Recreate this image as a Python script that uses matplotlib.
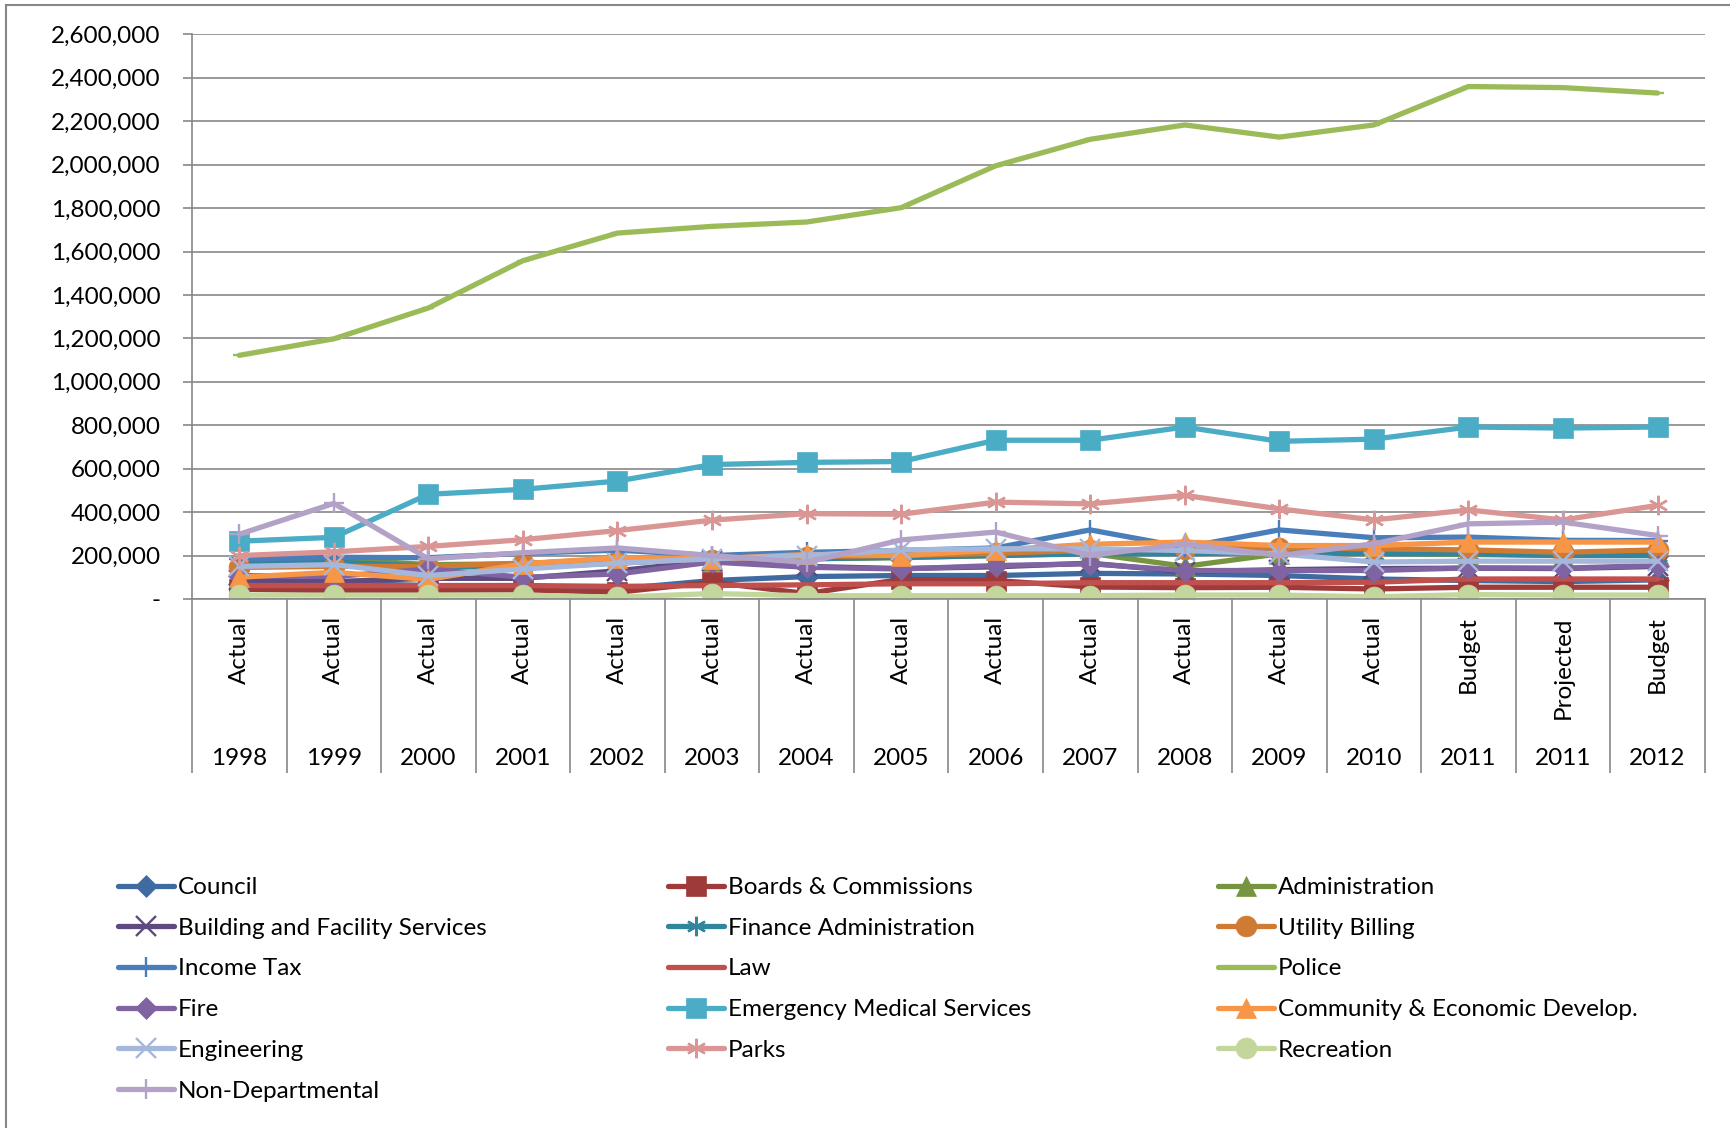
import numpy as np
import matplotlib.pyplot as plt
from matplotlib.patches import Rectangle
from matplotlib.ticker import FuncFormatter

plt.rcParams['font.family'] = ['Lato', 'DejaVu Sans']

# Categories (two-level axis)
years = ["1998", "1999", "2000", "2001", "2002", "2003", "2004", "2005",
         "2006", "2007", "2008", "2009", "2010", "2011", "2011", "2012"]
kinds = ["Actual"] * 13 + ["Budget", "Projected", "Budget"]

# Series values
council = [70000, 72000, 62000, 55000, 46000, 85000, 103000, 108000,
           108000, 118000, 115000, 108000, 92000, 85000, 80000, 88000]
boards = [45000, 38000, 40000, 42000, 31000, 77000, 25000, 90000,
          85000, 55000, 52000, 54000, 46000, 54000, 54000, 54000]
administration = [175000, 185000, 158000, 162000, 185000, 175000, 185000, 190000,
                  200000, 210000, 150000, 208000, 210000, 205000, 200000, 208000]
building = [88000, 80000, 95000, 95000, 130000, 175000, 150000, 140000,
            148000, 165000, 125000, 135000, 140000, 142000, 140000, 150000]
finance = [168000, 170000, 150000, 145000, 165000, 185000, 185000, 192000,
           200000, 208000, 208000, 215000, 208000, 208000, 200000, 200000]
utility = [145000, 150000, 150000, 165000, 175000, 180000, 195000, 200000,
           210000, 225000, 230000, 235000, 231000, 226000, 215000, 226000]
income_tax = [183000, 192000, 190000, 210000, 225000, 200000, 215000, 223000,
              235000, 318000, 238000, 318000, 282000, 285000, 270000, 269000]
law = [62000, 62000, 62000, 62000, 58000, 62000, 65000, 70000,
       70000, 75000, 75000, 75000, 77000, 92000, 92000, 92000]
police = [1122000, 1198000, 1340000, 1558000, 1685000, 1716000, 1736000, 1802000,
          1995000, 2117000, 2183000, 2127000, 2183000, 2360000, 2355000, 2330000]
fire = [108000, 103000, 138000, 100000, 115000, 170000, 146000, 138000,
        154000, 162000, 131000, 131000, 131000, 143000, 142000, 154000]
ems = [266000, 284000, 482000, 505000, 543000, 619000, 629000, 633000,
       731000, 731000, 792000, 726000, 736000, 792000, 787000, 792000]
community = [100000, 123000, 90000, 162000, 190000, 185000, 205000, 200000,
             225000, 252000, 262000, 246000, 246000, 262000, 262000, 262000]
engineering = [150000, 158000, 108000, 138000, 165000, 185000, 200000, 226000,
               231000, 231000, 223000, 208000, 170000, 174000, 174000, 174000]
parks = [200000, 217000, 242000, 273000, 315000, 363000, 393000, 390000,
         446000, 438000, 477000, 415000, 364000, 410000, 364000, 431000]
recreation = [18000, 18000, 18000, 18000, 8000, 25000, 15000, 15000,
              15000, 15000, 18000, 18000, 10000, 20000, 18000, 18000]
non_dept = [298000, 440000, 185000, 213000, 235000, 200000, 168000, 272000,
            308000, 200000, 254000, 200000, 254000, 346000, 354000, 292000]

asterisk = (6, 2, 0)
series = [
    ("Council", council, "#3F6BA1", "D"),
    ("Boards & Commissions", boards, "#9E3B3A", "s"),
    ("Administration", administration, "#779440", "^"),
    ("Building and Facility Services", building, "#5E4A7E", "x"),
    ("Finance Administration", finance, "#31859C", asterisk),
    ("Utility Billing", utility, "#D07B34", "o"),
    ("Income Tax", income_tax, "#4A7EBB", "+"),
    ("Law", law, "#C0504D", "_"),
    ("Police", police, "#9BBB59", "_"),
    ("Fire", fire, "#8064A2", "D"),
    ("Emergency Medical Services", ems, "#4BACC6", "s"),
    ("Community & Economic Develop.", community, "#F79646", "^"),
    ("Engineering", engineering, "#A5B8DB", "x"),
    ("Parks", parks, "#D99694", asterisk),
    ("Recreation", recreation, "#C3D69B", "o"),
    ("Non-Departmental", non_dept, "#B3A2C7", "+"),
]

grey = "#878787"
fig = plt.figure(figsize=(17.31, 11.28), dpi=100)
fig.patches.append(Rectangle((0.0035, -0.01), 1.0, 0.9956 + 0.01,
                             transform=fig.transFigure, fill=False,
                             edgecolor=grey, lw=1.5))

ax = fig.add_axes([0.1109, 0.469, 0.874, 0.5005])
x = np.arange(len(years))

handles = []
for name, vals, color, mk in series:
    line_marker = mk in ("x", "+", asterisk, "_")
    sizes = {"s": 14, "o": 15, "D": 11, "^": 14}
    ms = sizes.get(mk, 14)
    if mk == "_":
        ms = 8
    h, = ax.plot(x, vals, color=color, lw=3.8, marker=mk, markersize=ms,
                 markeredgewidth=1.7 if line_marker else 0.5,
                 markeredgecolor=color, label=name, solid_capstyle="round")
    handles.append(h)

ax.set_xlim(-0.5, len(years) - 0.5)
ax.set_ylim(0, 2600000)
ax.set_yticks(np.arange(0, 2600001, 200000))
ax.yaxis.set_major_formatter(FuncFormatter(lambda v, p: "-" if v == 0 else f"{int(v):,}"))
ax.grid(axis="y", color=grey, lw=1.2)
ax.set_axisbelow(True)

for s in ("top", "right"):
    ax.spines[s].set_visible(False)
for s in ("left", "bottom"):
    ax.spines[s].set_color(grey)
    ax.spines[s].set_linewidth(1.2)

ax.tick_params(axis="y", length=6.5, color=grey, width=1.2, pad=16, labelsize=17.5)
ax.set_xticks(x)
ax.set_xticklabels(kinds, rotation=90, fontsize=17.5, va="top")
ax.tick_params(axis="x", which="major", length=0, pad=12.5)
ax.set_xticks(np.arange(-0.5, len(years), 1), minor=True)
ax.tick_params(axis="x", which="minor", length=125, color=grey, width=1.2)

for i, yr in enumerate(years):
    ax.text(i, -0.282, yr, transform=ax.get_xaxis_transform(),
            ha="center", va="center", fontsize=17.5)

# legend in three columns, filled row by row
col_x = [118 / 1731, 668 / 1731, 1218 / 1731]
for c in range(3):
    hs = handles[c::3]
    fig.legend(hs, [h.get_label() for h in hs], loc="upper left",
               bbox_to_anchor=(col_x[c], 1 - 877 / 1128), frameon=False,
               fontsize=17.5, handlelength=2.3, handletextpad=0.15,
               labelspacing=0.81, borderaxespad=0, borderpad=0)

fig.savefig("out.png", dpi=100)
